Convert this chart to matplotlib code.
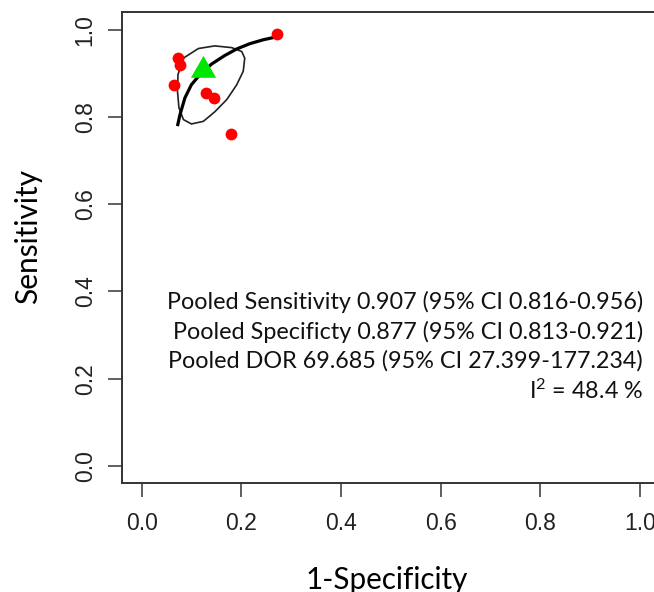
import matplotlib.pyplot as plt
import numpy as np

plt.rcParams["mathtext.fontset"] = "custom"
plt.rcParams["mathtext.rm"] = "Lato"
plt.rcParams["mathtext.it"] = "Lato"

# study points (1-specificity, sensitivity)
fpr = [0.271, 0.073, 0.077, 0.065, 0.130, 0.145, 0.179]
sens = [0.991, 0.935, 0.920, 0.874, 0.856, 0.844, 0.760]

# pooled estimate
pooled_fpr = 0.123
pooled_sens = 0.907

# SROC curve
sroc_x = [0.072, 0.077, 0.087, 0.100, 0.117, 0.140, 0.167, 0.191, 0.217, 0.244, 0.268]
sroc_y = [0.779, 0.805, 0.844, 0.874, 0.897, 0.921, 0.941, 0.956, 0.968, 0.977, 0.983]

# confidence region outline
conf_x = [0.084, 0.114, 0.147, 0.181, 0.201, 0.207, 0.204, 0.191, 0.171, 0.147,
          0.124, 0.100, 0.084, 0.075, 0.072, 0.073, 0.084]
conf_y = [0.935, 0.957, 0.963, 0.959, 0.950, 0.935, 0.905, 0.874, 0.840, 0.812,
          0.790, 0.784, 0.794, 0.821, 0.859, 0.897, 0.935]

ticks = [0.0, 0.2, 0.4, 0.6, 0.8, 1.0]
tick_labels = ["0.0", "0.2", "0.4", "0.6", "0.8", "1.0"]

summary_lines = [
    "Pooled Sensitivity 0.907 (95% CI 0.816-0.956)",
    "Pooled Specificty 0.877 (95% CI 0.813-0.921)",
    "Pooled DOR 69.685 (95% CI 27.399-177.234)",
    "I$^{2}$ = 48.4 %",
]

fig = plt.figure(figsize=(6.54, 5.92), dpi=100)
ax = fig.add_axes([0.186, 0.1836, 0.823, 0.7956])

ax.plot(conf_x, conf_y, color="#222222", lw=1.2, solid_joinstyle="round")
ax.plot(sroc_x, sroc_y, color="black", lw=2.3, solid_capstyle="butt")
ax.plot(fpr, sens, "o", color="red", markersize=8.5, markeredgewidth=0)
tri = [(-1, -0.5774), (1, -0.5774), (0, 1.1547)]
ax.plot([pooled_fpr], [pooled_sens], marker=tri, color="#00e600",
        markersize=21, markeredgewidth=0, linestyle="none")

ax.set_xlim(-0.04, 1.04)
ax.set_ylim(-0.04, 1.04)
ax.set_xticks(ticks)
ax.set_xticklabels(tick_labels)
ax.set_yticks(ticks)
ax.set_yticklabels(tick_labels, rotation=90, va="center")
for s in ax.spines.values():
    s.set_color("#333333")
    s.set_linewidth(1.4)
ax.tick_params(axis="both", direction="out", length=10, width=1.2,
               color="#444444", labelsize=16.5)
ax.tick_params(axis="x", pad=11)
ax.tick_params(axis="y", pad=8)
for lab in ax.get_xticklabels() + ax.get_yticklabels():
    lab.set_family("Liberation Sans")
    lab.set_color("#222222")

ty = [0.375, 0.308, 0.240, 0.171]
for line, y in zip(summary_lines, ty):
    ax.text(1.006, y, line, ha="right", va="center", fontsize=16.8,
            family="Lato", color="#111111")

fig.text(28 / 654, 1 - 236 / 592, "Sensitivity", rotation=90, ha="center",
         va="center", fontsize=21.5, family="Lato")
fig.text(387 / 654, 1 - 580 / 592, "1-Specificity", ha="center",
         va="center", fontsize=21.3, family="Lato")

fig.savefig("out.png", dpi=100)
